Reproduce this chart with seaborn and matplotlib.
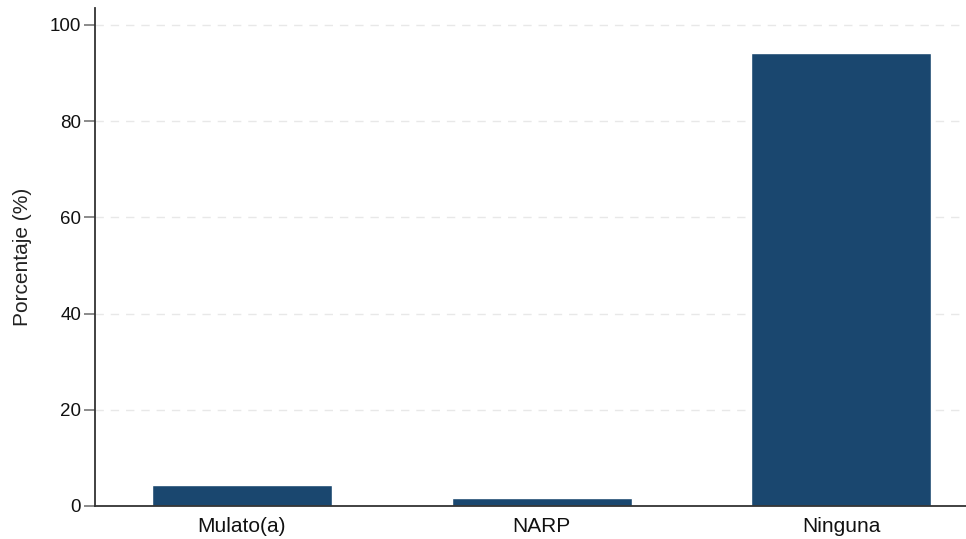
import matplotlib

matplotlib.use("Agg")
import matplotlib.pyplot as plt
import pandas as pd
import seaborn as sns

categories = ["Mulato(a)", "NARP", "Ninguna"]
percentages = [4.3, 1.6, 94.1]
y_ticks = [0, 20, 40, 60, 80, 100]

BAR_COLOR = "#1a476f"


def main() -> None:
    sns.set_theme(style="white")
    plt.rcParams["font.family"] = ["Liberation Sans", "DejaVu Sans"]

    df = pd.DataFrame({"categoria": categories, "porcentaje": percentages})

    fig = plt.figure(figsize=(9.66, 5.39), dpi=100)
    ax = fig.add_axes([95 / 966, 33 / 539, (966 - 95) / 966, (506 - 8) / 539])
    sns.barplot(
        data=df,
        x="categoria",
        y="porcentaje",
        color=BAR_COLOR,
        saturation=1,
        width=0.6,
        ax=ax,
    )

    ax.set_xlim(-0.49, 2.416)
    ax.set_ylim(0, 103.5)
    ax.set_yticks(y_ticks)
    ax.set_yticklabels([str(t) for t in y_ticks])
    ax.set_xlabel("")
    ax.set_ylabel("Porcentaje (%)", fontsize=15, color="#222222", labelpad=13)

    for y in y_ticks[1:]:
        ax.axhline(y, color="#e8e8e8", linewidth=1.0, linestyle=(0, (6, 5)), zorder=0)

    for side in ["top", "right"]:
        ax.spines[side].set_visible(False)
    for side in ["left", "bottom"]:
        ax.spines[side].set_color("#333333")
        ax.spines[side].set_linewidth(1.3)

    ax.tick_params(axis="y", length=8, width=1.2, color="#777777", labelsize=13.5,
                   labelcolor="#111111", pad=2, left=True)
    ax.tick_params(axis="x", length=0, labelsize=15, labelcolor="#111111", pad=8)

    fig.savefig("out.png", dpi=100)
    plt.close(fig)


if __name__ == "__main__":
    main()
